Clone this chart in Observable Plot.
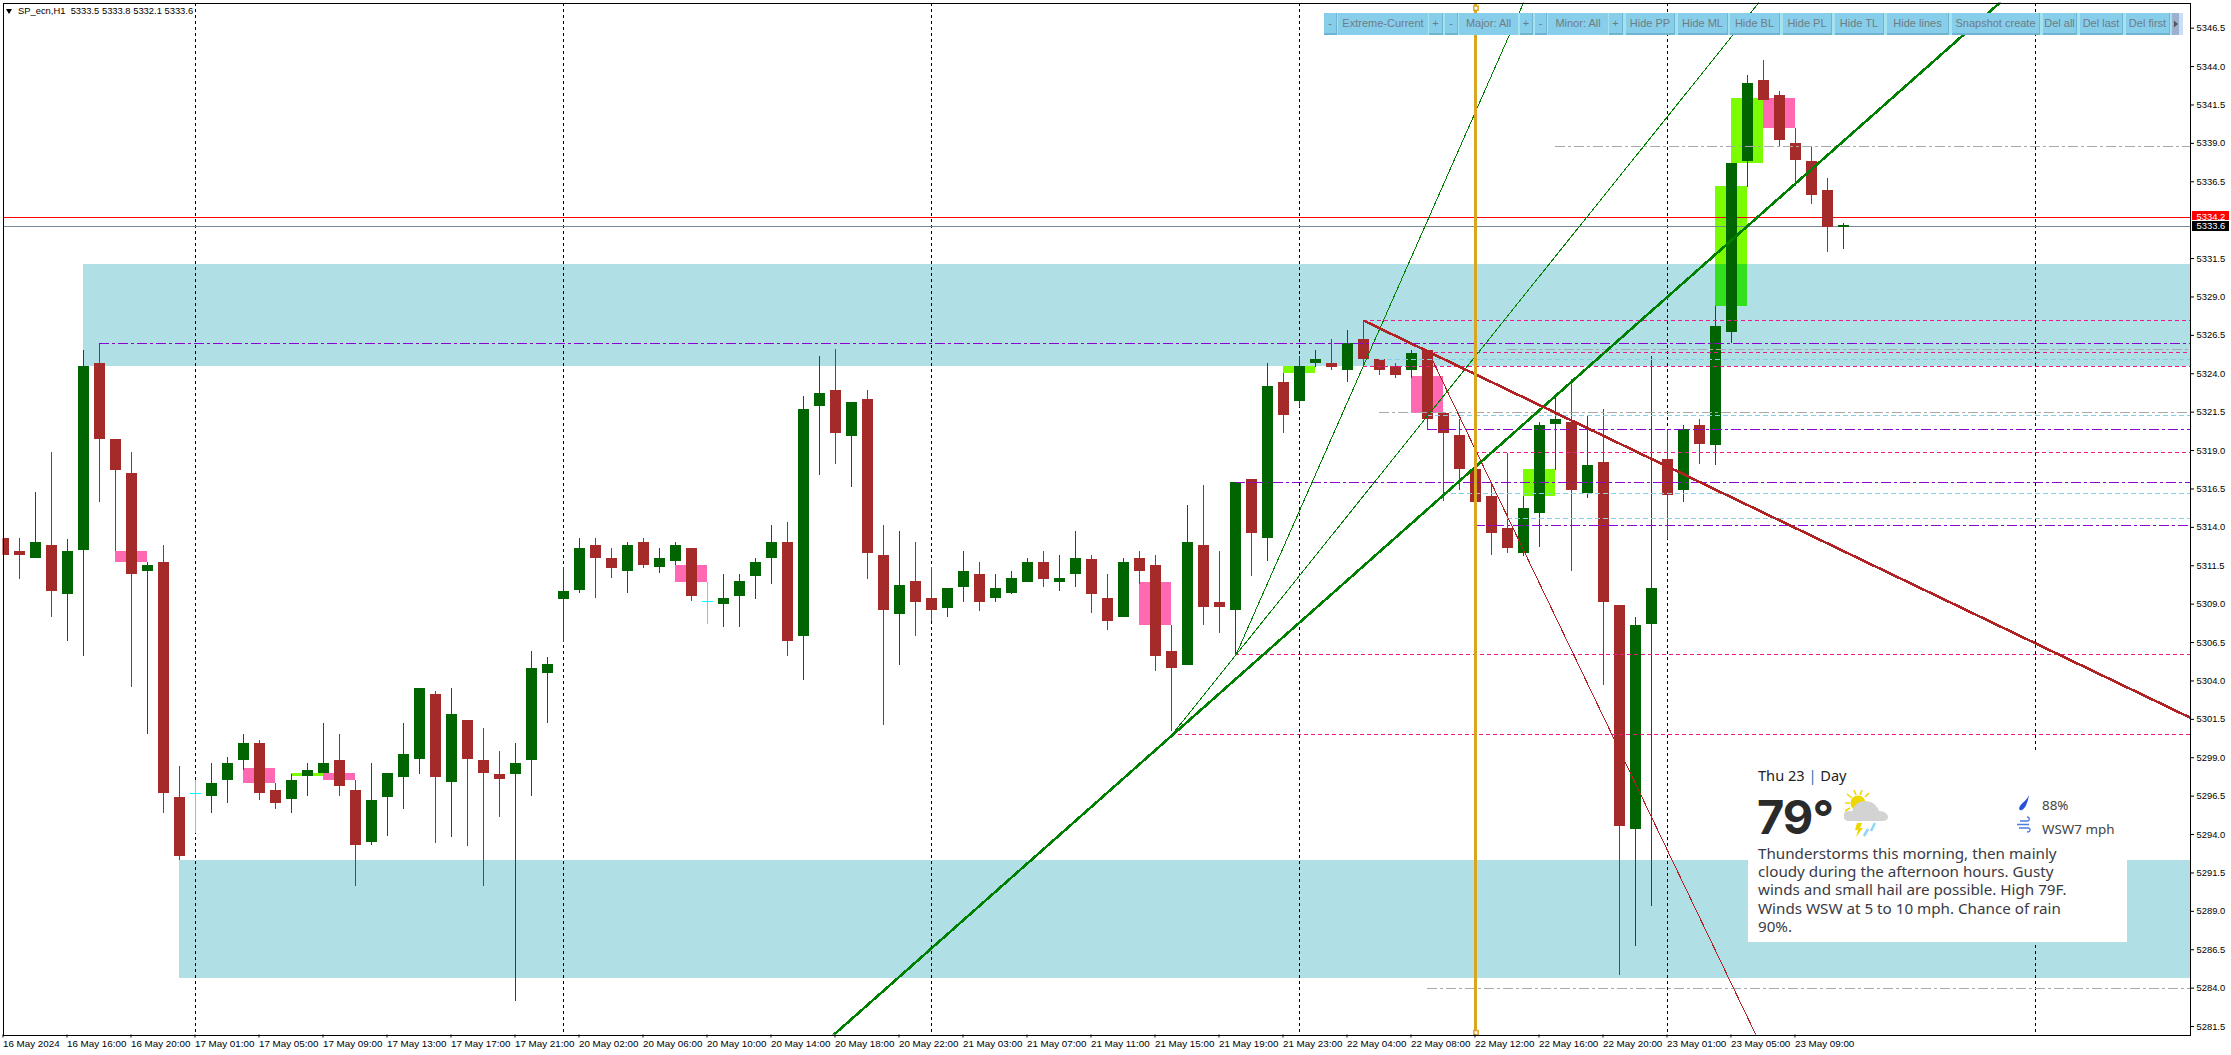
<!DOCTYPE html>
<html>
<head>
<meta charset="utf-8">
<script src="https://cdn.jsdelivr.net/npm/d3@7"></script>
<script src="https://cdn.jsdelivr.net/npm/@observablehq/plot@0.6"></script>
<style>
html,body{margin:0;padding:0;background:#fff;overflow:hidden}
#wrap{position:relative;width:2231px;height:1055px}
#wrap svg{display:block;max-width:none}
.ov{position:absolute;font-family:"Liberation Sans",Arial,sans-serif}
#hdr{left:18px;top:5px;font-size:9.4px;color:#000;white-space:pre;line-height:12px}
#tri{left:6px;top:9px;width:0;height:0;border-left:3.5px solid transparent;border-right:3.5px solid transparent;border-top:5px solid #000}
#bar-bg{left:1324px;top:13px;width:859px;height:22px;background:#A4E2F0}
.btn{position:absolute;top:13px;height:22px;background:#87CEEB;color:#6f7c84;font:11px/21px "Liberation Sans",Arial,sans-serif;text-align:center;box-sizing:border-box;overflow:hidden;white-space:nowrap}
.btn.p{border-right:1px solid #6FB4D0;border-bottom:2px solid #6FB4D0}
#weather{left:1748px;top:750px;width:379px;height:192px;background:#fff;color:#333;font-family:"Noto Sans","Open Sans",sans-serif}
#weather div{position:absolute;white-space:nowrap}
</style>
</head>
<body>
<div id="wrap"></div>
<script>
const opens=[5313.3,5312.4,5312.0,5312.8,5309.6,5312.5,5324.7,5319.7,5317.5,5311.1,5311.7,5296.4,5296.7,5296.5,5297.5,5298.8,5299.9,5296.9,5296.3,5297.8,5298.0,5298.8,5296.9,5293.5,5296.4,5297.7,5298.9,5303.1,5297.4,5301.4,5298.8,5297.9,5297.9,5298.8,5304.5,5309.3,5309.9,5312.8,5312.0,5311.1,5313.0,5311.4,5311.8,5312.6,5309.2,5309.0,5309.5,5310.8,5312.0,5313.0,5306.9,5321.9,5322.9,5319.9,5322.3,5312.2,5308.3,5310.5,5309.4,5308.7,5310.1,5310.9,5309.4,5309.7,5310.4,5311.7,5310.4,5310.9,5311.9,5309.4,5308.1,5312.0,5311.5,5305.9,5305.0,5312.8,5309.1,5308.6,5317.1,5313.3,5323.4,5322.2,5324.7,5324.7,5324.2,5326.2,5324.9,5324.5,5324.2,5325.5,5321.4,5320.0,5317.8,5316.0,5313.9,5312.3,5314.9,5320.7,5320.8,5316.2,5318.2,5308.9,5294.3,5307.7,5318.4,5316.4,5320.6,5319.3,5326.7,5337.8,5343.1,5342.1,5339.0,5337.8,5335.9,5333.5];
const highs=[5314.8,5313.3,5316.3,5318.9,5313.2,5325.5,5326.0,5319.7,5318.9,5311.7,5312.8,5298.4,5297.5,5298.6,5299.0,5300.5,5300.1,5297.3,5297.9,5298.6,5301.2,5300.5,5297.5,5298.6,5298.0,5301.2,5303.5,5303.3,5303.5,5301.4,5300.9,5299.4,5299.9,5305.9,5305.5,5311.4,5313.3,5313.3,5312.6,5313.0,5313.3,5312.6,5313.0,5312.6,5310.4,5310.9,5310.9,5312.0,5314.1,5314.3,5322.5,5325.1,5325.6,5322.1,5322.9,5314.1,5313.7,5313.0,5311.4,5310.0,5312.4,5311.7,5310.9,5311.1,5312.0,5312.4,5312.2,5313.7,5312.2,5310.9,5312.0,5312.4,5312.2,5307.6,5315.4,5316.7,5312.4,5316.9,5317.1,5324.7,5324.0,5325.1,5325.5,5326.2,5326.8,5327.4,5324.9,5324.7,5325.5,5325.5,5321.4,5321.0,5318.9,5316.9,5318.8,5316.0,5320.8,5322.5,5323.6,5321.2,5321.7,5308.9,5308.1,5325.1,5320.4,5320.6,5321.0,5328.4,5337.7,5343.4,5344.4,5342.4,5340.0,5338.8,5336.7,5333.8];
const lows=[5311.9,5310.6,5312.0,5308.1,5306.6,5305.6,5315.6,5312.4,5303.6,5300.5,5295.4,5292.3,5294.1,5295.4,5296.0,5298.2,5296.2,5295.6,5295.4,5296.5,5298.0,5296.5,5290.6,5293.3,5293.9,5295.6,5297.9,5293.4,5293.8,5293.2,5290.6,5295.1,5283.1,5296.5,5301.2,5306.5,5309.7,5309.4,5310.7,5309.7,5311.3,5311.0,5311.5,5309.2,5307.7,5307.5,5307.5,5309.3,5310.3,5305.6,5304.0,5317.4,5318.1,5316.6,5310.6,5301.1,5305.0,5306.9,5307.9,5308.1,5309.1,5308.5,5309.1,5309.6,5310.4,5310.1,5309.8,5310.1,5308.4,5307.3,5308.1,5310.3,5304.6,5300.7,5305.0,5307.6,5307.1,5305.7,5310.8,5311.8,5320.1,5321.8,5324.4,5324.2,5323.4,5324.5,5323.9,5323.7,5323.7,5320.4,5315.7,5316.4,5314.1,5312.2,5312.3,5312.1,5312.7,5317.7,5311.1,5315.9,5303.7,5284.8,5286.7,5289.3,5313.2,5315.6,5318.1,5318.0,5326.0,5336.1,5341.8,5338.8,5336.2,5335.0,5331.9,5332.1];
const closes=[5312.2,5312.2,5313.0,5309.8,5312.4,5324.5,5319.7,5317.7,5310.9,5311.5,5296.7,5292.6,5296.7,5297.3,5298.6,5299.9,5296.7,5296.0,5297.5,5298.2,5298.6,5297.1,5293.3,5296.2,5298.0,5299.2,5303.5,5297.7,5301.8,5298.9,5298.0,5297.6,5298.6,5304.8,5305.1,5309.8,5312.6,5312.0,5311.3,5312.8,5311.5,5312.0,5312.8,5309.5,5309.2,5309.4,5310.5,5311.7,5313.0,5306.6,5321.7,5322.7,5320.1,5322.1,5312.3,5308.6,5310.2,5309.1,5308.6,5310.0,5311.1,5309.1,5310.0,5310.7,5311.7,5310.6,5310.7,5312.0,5309.6,5307.9,5311.7,5311.1,5305.6,5304.8,5313.0,5308.8,5308.8,5316.9,5313.6,5323.2,5321.3,5324.5,5324.9,5324.4,5326.0,5324.9,5324.2,5323.9,5325.3,5321.0,5320.1,5317.8,5315.6,5313.6,5312.6,5315.2,5320.6,5321.0,5316.4,5318.0,5309.1,5294.5,5307.6,5310.0,5316.1,5320.4,5319.4,5327.1,5337.7,5342.9,5341.8,5339.2,5337.9,5335.6,5333.5,5333.6];

const xTickLabels=["16 May 2024","16 May 16:00","16 May 20:00","17 May 01:00","17 May 05:00","17 May 09:00","17 May 13:00","17 May 17:00","17 May 21:00","20 May 02:00","20 May 06:00","20 May 10:00","20 May 14:00","20 May 18:00","20 May 22:00","21 May 03:00","21 May 07:00","21 May 11:00","21 May 15:00","21 May 19:00","21 May 23:00","22 May 04:00","22 May 08:00","22 May 12:00","22 May 16:00","22 May 20:00","23 May 01:00","23 May 05:00","23 May 09:00"];
const yTickValues=[5346.5,5344,5341.5,5339,5336.5,5331.5,5329,5326.5,5324,5321.5,5319,5316.5,5314,5311.5,5309,5306.5,5304,5301.5,5299,5296.5,5294,5291.5,5289,5286.5,5284,5281.5];

const dayStarts=[12,35,58,81,104,127];
const supplyStart=[5,11], supplyTop=[5331.1,5292.3], supplyBottom=[5324.5,5284.65];
const pinkStart=[7,15,20,42,71,88,110], pinkTop=[5312.4,5298.3,5298.0,5311.5,5310.4,5323.8,5341.9], pinkBottom=[5311.7,5297.3,5297.5,5310.4,5307.6,5321.4,5340.0];
const limeStart=[18,80,95,107,108], limeTop=[5298.0,5324.5,5317.8,5336.2,5341.9], limeBottom=[5297.8,5324.0,5316.0,5328.4,5337.7];
const limeOverZoneStart=[107], limeOverZoneTop=[5331.1], limeOverZoneBottom=[5328.4];

const violetLevel=[5326.0,5320.4,5316.9,5314.1], violetStart=[6,89,77,92];
const pinkDashLevel=[5327.45,5325.4,5324.5,5318.9,5305.7,5300.5], pinkDashStart=[85,89,85,92,77,73];
const skyLevel=[5324.9,5321.3,5316.2,5314.6], skyStart=[86,89,90,94];
const grayLevel=[5338.8,5325.6,5321.5,5284.0], grayStart=[97,94,86,89];

const greenThick=[[51.85,5280.95],[124.72,5348.14]];
const greenThin1=[[73,5300.5],[109.66,5348.14]];
const greenThin2=[[77,5305.7],[94.97,5348.14]];
const redThick=[[85,5327.45],[136.66,5301.6]];
const redThin=[[89,5325.5],[109.5,5280.95]];
const cursorBar=92, cursorEnds=[5347.8,5281.1];
const askPrice=5334.2, bidPrice=5333.6;

const xMax=136.66, half=0.34375;
const bars=opens.map((o,i)=>({i,o,h:highs[i],l:lows[i],c:closes[i],col:closes[i]>o?"#006400":closes[i]<o?"#A52A2A":"#00FFFF"}));
const solid=bars.filter(b=>Math.abs(b.o-b.c)>=0.15), thin=bars.filter(b=>Math.abs(b.o-b.c)<0.15);
const zip=(s,a,b)=>s.map((v,k)=>({s:v,a:a[k],b:b[k]}));
const levels=(vals,starts)=>vals.map((v,k)=>({v,s:starts[k]}));
const crisp={shapeRendering:"crispEdges"};
const boxes=(s,a,b,fill)=>Plot.rect(zip(s,a,b),{x1:d=>d.s,x2:d=>d.s+2,y1:"a",y2:"b",fill,...crisp});
const hline=(vals,starts,stroke,strokeDasharray)=>Plot.ruleY(levels(vals,starts),{y:"v",x1:"s",x2:xMax,stroke,strokeWidth:1,strokeDasharray,...crisp});
const trend=(pts,stroke,strokeWidth)=>Plot.line(pts,{x:d=>d[0],y:d=>d[1],stroke,strokeWidth,clip:"frame",...crisp});

const chart=Plot.plot({
  width:2231,height:1055,marginLeft:2.5,marginTop:2.5,marginRight:41,marginBottom:20.5,
  style:{background:"#fff",fontFamily:'"Liberation Sans",Arial,sans-serif',color:"#000"},
  x:{domain:[-0.0625,xMax],label:null},
  y:{domain:[5280.95,5348.14],label:null},
  color:{type:"identity"},
  marks:[
    Plot.rect(zip(supplyStart,supplyTop,supplyBottom),{x1:"s",x2:xMax,y1:"a",y2:"b",fill:"#B0E0E6",...crisp}),
    boxes(pinkStart,pinkTop,pinkBottom,"#FF69B4"),
    boxes(limeStart,limeTop,limeBottom,"#7CFC00"),
    boxes(limeOverZoneStart,limeOverZoneTop,limeOverZoneBottom,"#33E01E"),
    Plot.ruleX(dayStarts,{x:d=>d,y1:5281.1,y2:5348.14,stroke:"#000",strokeWidth:1,strokeDasharray:"3,3",...crisp}),
    Plot.ruleY([askPrice],{stroke:"#FF0000",strokeWidth:1,...crisp}),
    Plot.ruleY([bidPrice],{stroke:"#778899",strokeWidth:1,...crisp}),
    Plot.ruleX(bars,{x:"i",y1:"l",y2:"h",stroke:"col",strokeWidth:1,clip:"frame",...crisp}),
    Plot.rect(solid,{x1:d=>d.i-half,x2:d=>d.i+half,y1:"o",y2:"c",fill:"col",clip:"frame",...crisp}),
    Plot.ruleY(thin,{y:"c",x1:d=>d.i-half,x2:d=>d.i+half,stroke:"col",strokeWidth:d=>d.o===d.c?1:2,...crisp}),
    hline(grayLevel,grayStart,"#A9A9A9","10,3,3,3"),
    hline(pinkDashLevel,pinkDashStart,"#EE1A8C","4,3"),
    hline(skyLevel,skyStart,"#87CEEB","5,3"),
    hline(violetLevel,violetStart,"#8A05CF","10,3,3,3"),
    trend(greenThin1,"#008000",1),
    trend(greenThin2,"#008000",1),
    trend(redThin,"#B22222",1),
    trend(greenThick,"#008000",2.6),
    trend(redThick,"#B22222",2.6),
    Plot.ruleX([cursorBar],{y1:5281,y2:5348.14,stroke:"#DAA520",strokeWidth:3,...crisp}),
    Plot.dot(cursorEnds,{x:()=>cursorBar,y:d=>d,symbol:"square",r:2.4,fill:"#fff",stroke:"#DAA520",strokeWidth:1.5}),
    Plot.frame({stroke:"#000",strokeWidth:1,...crisp}),
    Plot.axisY({anchor:"right",ticks:yTickValues,tickSize:3,tickPadding:3,tickFormat:d=>d.toFixed(1),fontSize:9.4,fill:"#000",stroke:"#000",strokeOpacity:1,label:null}),
    Plot.axisX({anchor:"bottom",ticks:xTickLabels.map((_,k)=>k*4),tickSize:3,tickPadding:2,tickFormat:d=>xTickLabels[d/4],textAnchor:"start",dx:-1,fontSize:9.8,fill:"#000",label:null}),
    Plot.rect([{c:"#FF0000",a:5334.57,b:5333.98},{c:"#000",a:5333.93,b:5333.28}],{x1:xMax+0.12,x2:xMax+2.44,y1:"a",y2:"b",fill:"c",...crisp}),
    Plot.text([askPrice,bidPrice],{x:xMax+0.38,y:d=>d,text:d=>d.toFixed(1),textAnchor:"start",fill:"#fff",fontSize:9.4})
  ]
});
const wrap=document.getElementById("wrap");
wrap.appendChild(chart);

function addDiv(html,cls,id){const d=document.createElement("div");d.className=cls;if(id)d.id=id;d.innerHTML=html;wrap.appendChild(d);return d;}
addDiv("","ov","tri");
addDiv("SP_ecn,H1  5333.5 5333.8 5332.1 5333.6","ov","hdr");
addDiv("","ov","bar-bg");
const buttons=[["-",1324,1337,1],["Extreme-Current",1338,1428,0],["+",1429,1443,1],["-",1445,1458,1],["Major: All",1459,1518,0],["+",1520,1533,1],["-",1535,1547,1],["Minor: All",1548,1608,0],["+",1609,1623,1],["Hide PP",1626,1675,1],["Hide ML",1678,1728,1],["Hide BL",1730,1780,1],["Hide PL",1783,1832,1],["Hide TL",1835,1884,1],["Hide lines",1887,1949,1],["Snapshot create",1952,2040,1],["Del all",2043,2077,1],["Del last",2080,2123,1],["Del first",2126,2170,1]];
for(const [t,a,b,p] of buttons){const d=addDiv(t,"btn"+(p?" p":""));d.style.left=a+"px";d.style.width=(b-a)+"px";}
addDiv('<div style="position:absolute;left:0;top:0;width:7px;height:22px;background:#9DB1CF"></div><svg width="11" height="22" style="position:absolute;left:0;top:0"><path d="M2 7.5L6 11L2 14.5Z" fill="#555"/></svg>',"ov").setAttribute("style","left:2172px;top:13px;width:11px;height:22px;background:#C9DDF8");

addDiv(`
<div style="left:10px;top:16px;font-size:14.6px;line-height:18px;color:#222">Thu 23 <span style="color:#2a6fb0">|</span> Day</div>
<div style="left:9px;top:38px;font-family:Inter,'Noto Sans',sans-serif;font-size:47px;line-height:57px;font-weight:700;letter-spacing:-1px;color:#2a2a2a">79°</div>
<svg style="position:absolute;left:96px;top:40px" width="46" height="50" viewBox="0 0 46 50">
 <g stroke="#EFD800" stroke-width="1.6"><path d="M1 13H6M3 4L8 8M10 0L12 5M18 0L16 5M25 3L21 7M1 21L6 18"/></g>
 <circle cx="14" cy="13" r="7.5" fill="#EFD800"/>
 <path d="M4 31a5 5 0 0 1 1-10c1 0 2 0 3 .6C10 15 15 11 21 11c7 0 12 4 14 10 5 0 9 3 9 6 0 3-3 4-6 4Z" fill="#D3D3D3"/>
 <path d="M13 33L11 40H14L12 47L19 38H16L18 33Z" fill="#EFD800"/>
 <path d="M24 39L20 46M31 33L27 41" stroke="#8FD8F2" stroke-width="2.6"/>
</svg>
<svg style="position:absolute;left:268px;top:44px" width="16" height="40" viewBox="0 0 16 40">
 <path d="M13 1C11 6 7 8 4 12C2 15 4 17 6 16C9 15 12 8 13 1Z" fill="#2A50D8"/>
 <g fill="none" stroke="#4C7EE0" stroke-width="1.3"><path d="M4 27H11C14 27 14 23 11 23M1 30.5H13M3 34H12C15 34 15 38 11 38"/></g>
</svg>
<div style="left:294px;top:46px;font-size:13.4px;line-height:18px;color:#444">88%</div>
<div style="left:294px;top:70px;font-size:13.4px;line-height:18px;color:#444">WSW7 mph</div>
<div style="left:10px;top:94px;font-size:15.2px;line-height:18.2px;color:#3a3a44">Thunderstorms this morning, then mainly<br>cloudy during the afternoon hours. Gusty<br>winds and small hail are possible. High 79F.<br>Winds WSW at 5 to 10 mph. Chance of rain<br>90%.</div>`,"ov","weather");
</script>
</body>
</html>
